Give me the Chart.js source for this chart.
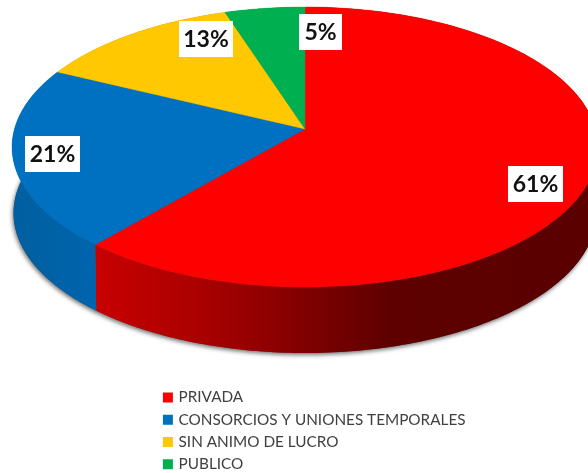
<!DOCTYPE html>
<html><head><meta charset="utf-8">
<style>html,body{margin:0;padding:0;background:#fff}canvas{display:block}</style>
<script src="https://cdn.jsdelivr.net/npm/chart.js@4"></script>
</head><body><canvas id="c" width="588" height="473"></canvas>
<script>
const categories = ['PRIVADA','CONSORCIOS Y UNIONES TEMPORALES','SIN ANIMO DE LUCRO','PUBLICO'];
const values = [61.3,20.9,12.8,5.0];
const colors = ['#FF0000','#0070C0','#FFC800','#00B050'];
const sideStops = [
  [[97,'#c80000'],[200,'#aa0000'],[300,'#820000'],[390,'#5e0000'],[588,'#5a0000']],
  [[12,'#005f9f'],[97,'#0064ae']],
  [[0,'#a88000'],[588,'#a88000']],
  [[0,'#007a38'],[588,'#007a38']]
];
const labelCentres = [[535.5,184],[52.5,154],[206,39],[320.5,32]];
const labelBoxW = [55,55,54,43];

// perspective projection of the pie's unit circle on to the page
const view = {cx:305, cy:129, p:121.1, q:290.5, w:-0.1286, depth:66, lowerScale:0.995};
function project(x,y,dy,s){
  const d = 1 + view.w*y;
  return [view.cx + (s||1)*view.q*x/d, (view.cy + view.p*y)/d + (dy||0)];
}
function rim(a0,a1,dy,s){
  const pts=[], n=Math.max(2,Math.ceil(Math.abs(a1-a0)*60));
  for(let i=0;i<=n;i++){const a=a0+(a1-a0)*i/n; pts.push(project(Math.cos(a),Math.sin(a),dy,s));}
  return pts;
}
function poly(ctx,pts){ctx.beginPath();pts.forEach((p,i)=>i?ctx.lineTo(p[0],p[1]):ctx.moveTo(p[0],p[1]));ctx.closePath();}

const pie3d = {
  id:'pie3d',
  beforeDraw(chart){
    const l = chart.legend;
    l.left=158; l.right=588; l.top=383; l.bottom=700;
  },
  beforeDatasetsDraw(chart){
    const ctx=chart.ctx, arcs=chart.getDatasetMeta(0).data;
    ctx.save();
    ctx.save();
    ctx.shadowColor='rgba(0,0,0,0.55)'; ctx.shadowBlur=4; ctx.shadowOffsetX=-1; ctx.shadowOffsetY=2;
    ctx.fillStyle='#555';
    poly(ctx,rim(0,Math.PI*2,view.depth,view.lowerScale)); ctx.fill();
    ctx.restore();
    arcs.forEach((arc,i)=>{
      const st=sideStops[i], x0=st[0][0], x1=st[st.length-1][0];
      const g=ctx.createLinearGradient(x0,0,x1,0);
      st.forEach(s=>g.addColorStop((s[0]-x0)/(x1-x0),s[1]));
      const top=rim(arc.startAngle,arc.endAngle,0,1), low=rim(arc.startAngle,arc.endAngle,view.depth,view.lowerScale).reverse();
      poly(ctx,top.concat(low)); ctx.fillStyle=g; ctx.fill();
    });
    arcs.forEach((arc,i)=>{
      poly(ctx,[[view.cx,view.cy]].concat(rim(arc.startAngle,arc.endAngle,0,1)));
      ctx.fillStyle=colors[i]; ctx.fill();
      ctx.strokeStyle=colors[i]; ctx.lineWidth=0.4; ctx.stroke();
    });
    ctx.font='bold 23px Lato'; ctx.textAlign='center'; ctx.textBaseline='middle';
    values.forEach((v,i)=>{
      const [x,y]=labelCentres[i], bw=labelBoxW[i], bh=36;
      ctx.fillStyle='#fff'; ctx.fillRect(x-bw/2,y-bh/2,bw,bh);
      ctx.fillStyle='#111'; ctx.fillText(Math.round(v)+'%',x,y+1);
    });
    ctx.restore();
    return false;
  }
};

new Chart(document.getElementById('c'),{
  type:'pie',
  data:{labels:categories,datasets:[{data:values,backgroundColor:colors,borderWidth:0}]},
  options:{
    responsive:false,animation:false,
    plugins:{
      tooltip:{enabled:false},
      legend:{position:'left',align:'start',labels:{
        boxWidth:6,boxHeight:6,padding:6.9,color:'#404040',
        font:{family:'Lato',size:15.3,lineHeight:1.05},
        generateLabels(chart){
          return Chart.overrides.pie.plugins.legend.labels.generateLabels(chart)
            .map(it=>Object.assign(it,{lineWidth:4,strokeStyle:it.fillStyle}));
        }
      }}
    }
  },
  plugins:[pie3d]
});
</script></body></html>
